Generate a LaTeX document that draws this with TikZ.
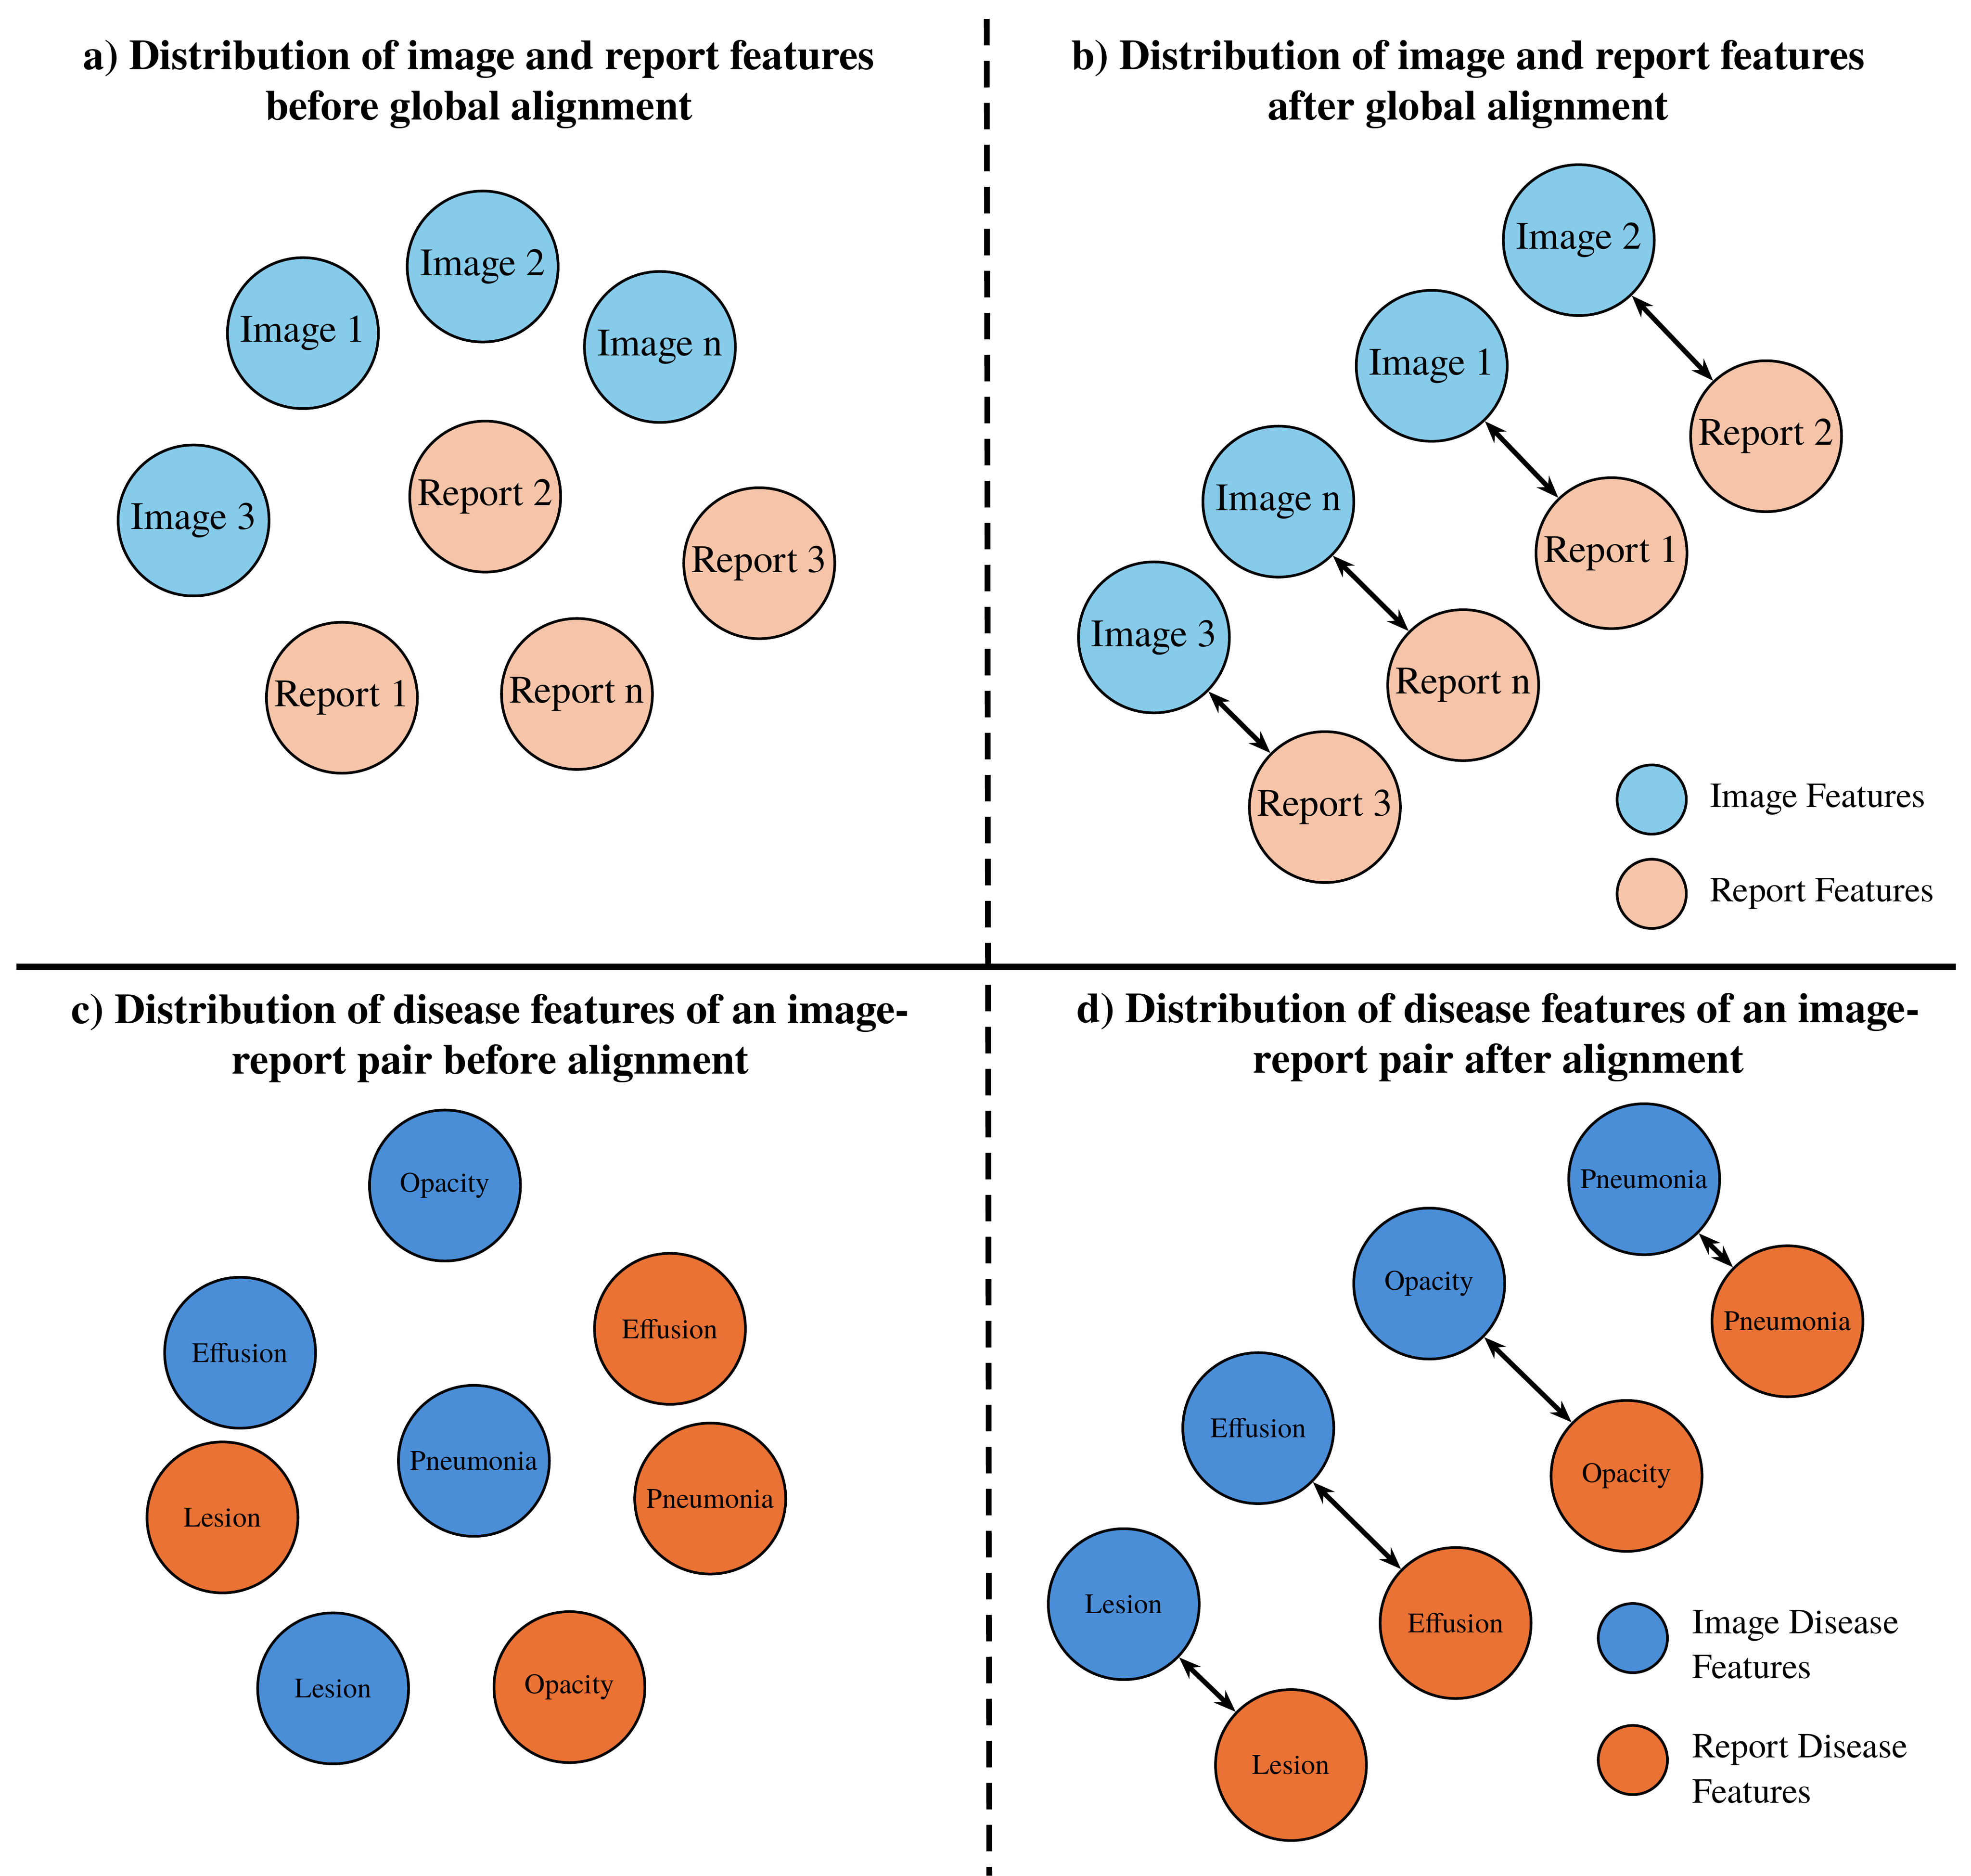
\documentclass[tikz,border=0pt]{standalone}
\usepackage{fontspec}
\setmainfont{texgyretermes}[Extension=.otf,UprightFont=*-regular,BoldFont=*-bold,ItalicFont=*-italic,BoldItalicFont=*-bolditalic]
\usetikzlibrary{arrows.meta}
\definecolor{lb}{HTML}{87CBEA}
\definecolor{pc}{HTML}{F6C5A9}
\definecolor{db}{HTML}{4A8ED8}
\definecolor{og}{HTML}{E97234}
\begin{document}
\begin{tikzpicture}[x=0.01cm,y=-0.01cm,
 c/.style={circle,draw=black,line width=0.6pt,minimum size=1.2cm,inner sep=0pt,font=\fontsize{8.8}{9}\selectfont},
 img/.style={c,fill=lb}, rep/.style={c,fill=pc},
 dimg/.style={c,fill=db,font=\fontsize{6.4}{7}\selectfont}, drep/.style={c,fill=og,font=\fontsize{6.4}{7}\selectfont},
 lg/.style={circle,draw=black,line width=0.6pt,minimum size=0.55cm,inner sep=0pt},
 lt/.style={anchor=west,font=\fontsize{8}{10.2}\selectfont,align=left},
 ttl/.style={font=\bfseries\fontsize{9.6}{11.4}\selectfont,align=center},
 ar/.style={{Stealth[length=5pt]}-{Stealth[length=5pt]},line width=1.1pt}]
\useasboundingbox (0,0) rectangle (1568,1492);
\draw[line width=1.3pt,dash pattern=on 6pt off 3.5pt] (785,15) -- (787,1492);
\draw[line width=1.5pt] (13,769) -- (1556,769);
\node[ttl] (ta) at (381,67) {a) Distribution of image and report features\\before global alignment};
\node[ttl] (tb) at (1168,67) {b) Distribution of image and report features\\after global alignment};
\node[ttl] (tc) at (390,826) {c) Distribution of disease features of an image-\\report pair before alignment};
\node[ttl] (td) at (1192,825) {d) Distribution of disease features of an image-\\report pair after alignment};
% a
\node[img] (a1) at (241,265) {Image 1};
\node[img] (a2) at (384,212) {Image 2};
\node[img] (an) at (525,276) {Image n};
\node[img] (a3) at (154,414) {Image 3};
\node[rep] (r2) at (386,395) {Report 2};
\node[rep] (r3) at (604,448) {Report 3};
\node[rep] (r1) at (272,555) {Report 1};
\node[rep] (rn) at (459,552) {Report n};
% b
\node[img] (b2) at (1256,191) {Image 2};
\node[img] (b1) at (1139,291) {Image 1};
\node[img] (bn) at (1017,399) {Image n};
\node[img] (b3) at (918,507) {Image 3};
\node[rep] (s2) at (1405,347) {Report 2};
\node[rep] (s1) at (1282,440) {Report 1};
\node[rep] (sn) at (1164,545) {Report n};
\node[rep] (s3) at (1054,642) {Report 3};
\draw[ar] (b2) -- (s2); \draw[ar] (b1) -- (s1); \draw[ar] (bn) -- (sn); \draw[ar] (b3) -- (s3);
\node[lg,fill=lb] (l1) at (1314,636) {};
\node[lt] (lt1) at (1348,636) {Image Features};
\node[lg,fill=pc] (l2) at (1314,711) {};
\node[lt] (lt2) at (1348,711) {Report Features};
% c
\node[dimg] (c1) at (354,943) {Opacity};
\node[dimg] (c2) at (191,1076) {Effusion};
\node[dimg] (c3) at (377,1162) {Pneumonia};
\node[drep] (c4) at (177,1207) {Lesion};
\node[dimg] (c5) at (265,1343) {Lesion};
\node[drep] (c6) at (533,1057) {Effusion};
\node[drep] (c7) at (565,1192) {Pneumonia};
\node[drep] (c8) at (453,1342) {Opacity};
% d
\node[dimg] (d1) at (1308,938) {Pneumonia};
\node[dimg] (d2) at (1137,1021) {Opacity};
\node[dimg] (d3) at (1001,1136) {Effusion};
\node[dimg] (d4) at (894,1276) {Lesion};
\node[drep] (e1) at (1422,1051) {Pneumonia};
\node[drep] (e2) at (1294,1174) {Opacity};
\node[drep] (e3) at (1158,1291) {Effusion};
\node[drep] (e4) at (1027,1404) {Lesion};
\draw[ar] (d1) -- (e1); \draw[ar] (d2) -- (e2); \draw[ar] (d3) -- (e3); \draw[ar] (d4) -- (e4);
\node[lg,fill=db] (m1) at (1299,1303) {};
\node[lt] (mt1) at (1334,1308) {Image Disease\\Features};
\node[lg,fill=og] (m2) at (1299,1400) {};
\node[lt] (mt2) at (1334,1407) {Report Disease\\Features};
\end{tikzpicture}
\end{document}
